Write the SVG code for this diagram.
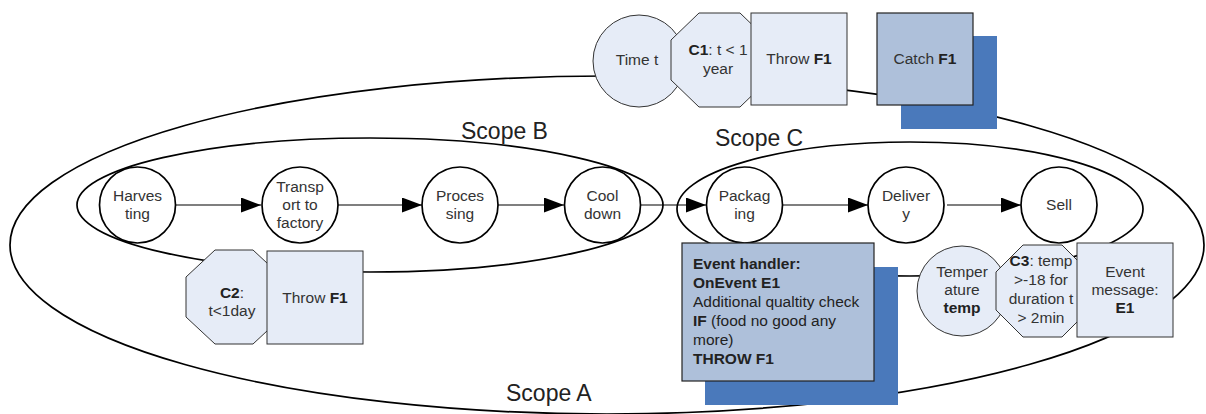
<svg xmlns="http://www.w3.org/2000/svg" width="1206" height="414" viewBox="0 0 1206 414">
<defs>
<style>
text{font-family:"Liberation Sans",Arial,sans-serif;font-size:15.5px;fill:#333;text-anchor:middle}
.lbl{font-size:23px;fill:#222;text-anchor:start}
.b{font-weight:bold;fill:#222}
.scope{fill:none;stroke:#000;stroke-width:1.7}
.step{fill:#fff;stroke:#000;stroke-width:1.7}
.lt{fill:#e6ecf7;stroke:#333;stroke-width:1}
.md{fill:#aec0da;stroke:#222;stroke-width:1.2}
.sh{fill:#4a79bb}
.conn line{stroke:#000;stroke-width:1.2;marker-end:url(#ah)}
.eh{text-anchor:start;fill:#222}
</style>
<marker id="ah" viewBox="0 0 20 15" refX="20" refY="7.5" markerWidth="20" markerHeight="15" markerUnits="userSpaceOnUse" orient="auto">
<path d="M0,0 L20,7.5 L0,15 z" fill="#000"/>
</marker>
</defs>
<rect width="1206" height="414" fill="#fff"/>

<g id="scopes">
<ellipse id="scopeA" class="scope" cx="607" cy="245" rx="597" ry="169"/>
<ellipse id="scopeB" class="scope" cx="370" cy="205" rx="293" ry="67"/>
<ellipse id="scopeC" class="scope" cx="910" cy="209" rx="233" ry="67"/>
<text class="lbl" x="461" y="139">Scope B</text>
<text class="lbl" x="715" y="146">Scope C</text>
<text class="lbl" x="506" y="401">Scope A</text>
</g>

<g id="connectors" class="conn">
<line x1="176" y1="205" x2="261" y2="205"/>
<line x1="338" y1="205" x2="422" y2="205"/>
<line x1="498" y1="205" x2="564" y2="205"/>
<line x1="641" y1="205" x2="706" y2="205"/>
<line x1="783" y1="205" x2="868" y2="205"/>
<line x1="947" y1="205" x2="1021" y2="205"/>
</g>

<g id="harvesting"><circle class="step" cx="137.5" cy="205" r="38"/><text x="137.5" y="201">Harves</text><text x="137.5" y="219">ting</text></g>
<g id="transport"><circle class="step" cx="300" cy="205" r="38"/><text x="300" y="192">Transp</text><text x="300" y="210">ort to</text><text x="300" y="228">factory</text></g>
<g id="processing"><circle class="step" cx="460" cy="205" r="38"/><text x="460" y="201">Proces</text><text x="460" y="219">sing</text></g>
<g id="cooldown"><circle class="step" cx="602.5" cy="205" r="38"/><text x="602.5" y="201">Cool</text><text x="602.5" y="219">down</text></g>
<g id="packaging"><circle class="step" cx="744.5" cy="205" r="38"/><text x="744.5" y="201">Packag</text><text x="744.5" y="219">ing</text></g>
<g id="delivery"><circle class="step" cx="906" cy="205" r="38"/><text x="906" y="201">Deliver</text><text x="906" y="219">y</text></g>
<g id="sell"><circle class="step" cx="1059" cy="205" r="38"/><text x="1059" y="210">Sell</text></g>

<g id="timet"><circle class="lt" cx="639" cy="61" r="46"/><text x="637" y="65">Time t</text></g>
<g id="c1"><polygon class="lt" points="699,13 740,13 768,40 768,80 740,107 699,107 671,80 671,40"/><text x="718" y="55"><tspan class="b">C1</tspan>: t &lt; 1</text><text x="718" y="74">year</text></g>
<g id="throwF1a"><rect class="lt" x="751" y="13" width="96" height="92"/><text x="799" y="64">Throw <tspan class="b">F1</tspan></text></g>
<g id="catchF1"><rect class="sh" x="901" y="36" width="96" height="93"/><rect class="md" x="877" y="13" width="96" height="92"/><text x="925" y="64">Catch <tspan class="b">F1</tspan></text></g>

<g id="c2"><polygon class="lt" points="215,250 253,250 282,277 282,317 253,344 215,344 186,317 186,277"/><text x="232" y="298"><tspan class="b">C2</tspan>:</text><text x="232" y="316">t&lt;1day</text></g>
<g id="throwF1b"><rect class="lt" x="267" y="251" width="96" height="93"/><text x="315" y="303">Throw <tspan class="b">F1</tspan></text></g>

<g id="eventhandler"><rect class="sh" x="705" y="267" width="193" height="138"/><rect class="md" x="682" y="243" width="192" height="138"/>
<text class="eh" x="693" y="269"><tspan class="b">Event handler:</tspan></text>
<text class="eh" x="693" y="288"><tspan class="b">OnEvent E1</tspan></text>
<text class="eh" x="693" y="307">Additional qualtity check</text>
<text class="eh" x="693" y="326"><tspan class="b">IF</tspan> (food no good any</text>
<text class="eh" x="693" y="345">more)</text>
<text class="eh" x="693" y="364"><tspan class="b">THROW F1</tspan></text>
</g>

<g id="temperature"><circle class="lt" cx="962" cy="291" r="45"/><text x="962" y="277">Temper</text><text x="962" y="295">ature</text><text x="962" y="313"><tspan class="b">temp</tspan></text></g>
<g id="c3"><polygon class="lt" points="1023,245 1062,245 1089,272 1089,310 1062,337 1023,337 996,310 996,272"/>
<text x="1041" y="266"><tspan class="b">C3</tspan>: temp</text><text x="1041" y="285">&gt;-18 for</text><text x="1041" y="304">duration t</text><text x="1041" y="323">&gt; 2min</text></g>
<g id="eventmsg"><rect class="lt" x="1077" y="243" width="96" height="94"/><text x="1125" y="277">Event</text><text x="1125" y="295">message:</text><text x="1125" y="313"><tspan class="b">E1</tspan></text></g>
</svg>
